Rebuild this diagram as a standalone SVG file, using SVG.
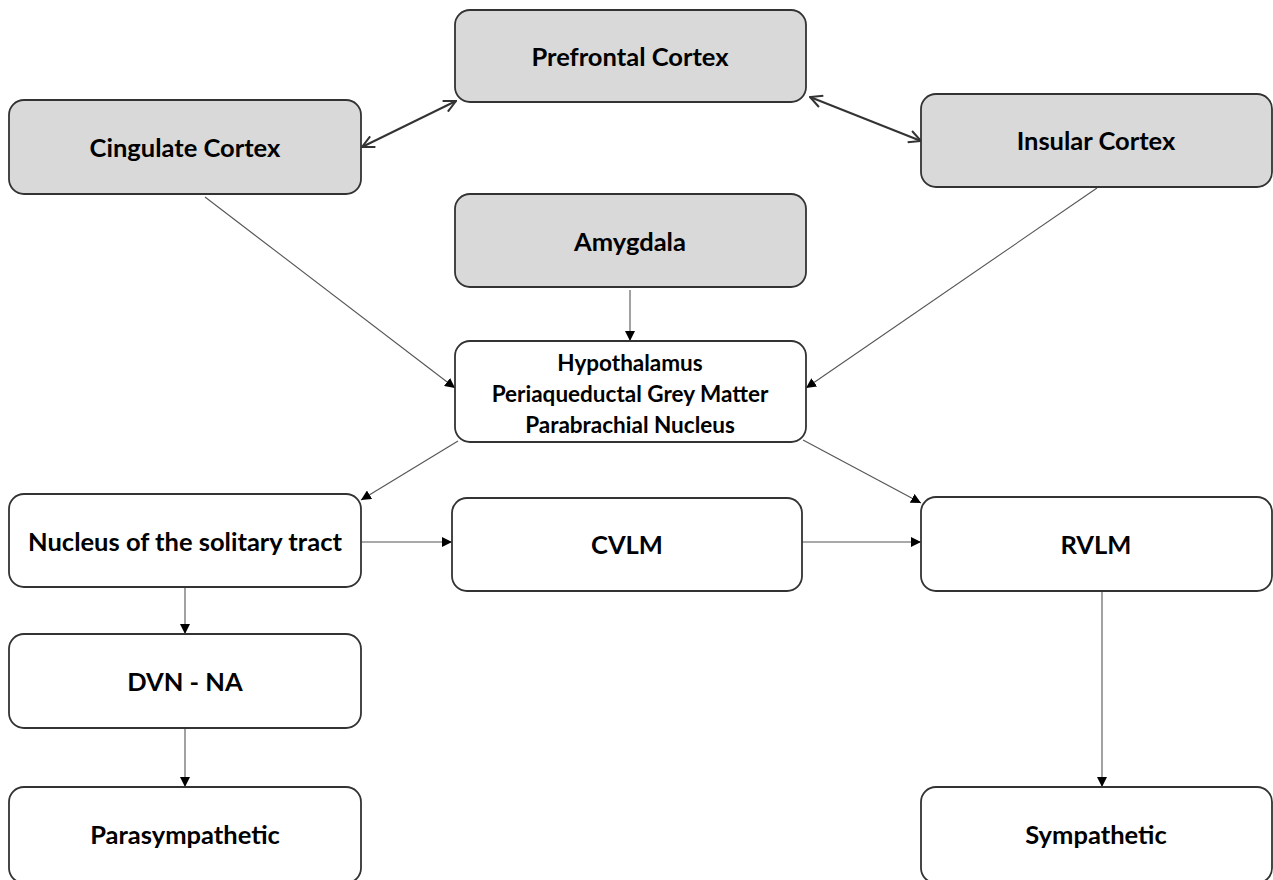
<svg xmlns="http://www.w3.org/2000/svg" width="1273" height="880" viewBox="0 0 1273 880">
<style>
.box{stroke:#333;stroke-width:1.8}
.grey{fill:#d9d9d9}
.white{fill:#fff}
.t{font-family:Lato,"Open Sans","Liberation Sans",sans-serif;font-weight:bold;font-size:25.5px;fill:#000;text-anchor:middle;dominant-baseline:central}
.ts{font-size:22.5px}
.thin{stroke:#555;stroke-width:1.1;fill:none}
.thick{stroke:#333;stroke-width:2;fill:none}
</style>
<defs>
<marker id="fill" viewBox="0 0 10 10" refX="10" refY="5" markerWidth="10" markerHeight="10" markerUnits="userSpaceOnUse" orient="auto"><path d="M0,0 L10,5 L0,10 z" fill="#000"/></marker>
<marker id="open" viewBox="0 0 14 14" refX="13" refY="7" markerWidth="14" markerHeight="14" markerUnits="userSpaceOnUse" orient="auto-start-reverse"><path d="M1,1 L13,7 L1,13" fill="none" stroke="#333" stroke-width="2"/></marker>
</defs>
<rect width="1273" height="880" fill="#fff"/>
<g id="connectors">
<line class="thick" x1="362" y1="147" x2="456" y2="101" marker-start="url(#open)" marker-end="url(#open)"/>
<line class="thick" x1="810" y1="97" x2="921" y2="141" marker-start="url(#open)" marker-end="url(#open)"/>
<line class="thin" x1="205" y1="197" x2="455" y2="388" marker-end="url(#fill)"/>
<line class="thin" x1="1097" y1="188" x2="806" y2="388" marker-end="url(#fill)"/>
<line class="thin" x1="630" y1="290" x2="630" y2="341" marker-end="url(#fill)"/>
<line class="thin" x1="458" y1="441" x2="361" y2="500" marker-end="url(#fill)"/>
<line class="thin" x1="803" y1="440" x2="921" y2="503" marker-end="url(#fill)"/>
<line class="thin" x1="361" y1="542" x2="452" y2="542" marker-end="url(#fill)"/>
<line class="thin" x1="802" y1="542" x2="921" y2="542" marker-end="url(#fill)"/>
<line class="thin" x1="185" y1="588" x2="185" y2="634" marker-end="url(#fill)"/>
<line class="thin" x1="185" y1="729" x2="185" y2="787" marker-end="url(#fill)"/>
<line class="thin" x1="1102" y1="592" x2="1102" y2="787" marker-end="url(#fill)"/>
</g>
<g id="prefrontal"><rect class="box grey" x="455" y="10" width="351" height="92" rx="15"/><text class="t" x="630" y="56">Prefrontal Cortex</text></g>
<g id="cingulate"><rect class="box grey" x="9" y="100" width="352" height="94" rx="15"/><text class="t" x="185" y="147">Cingulate Cortex</text></g>
<g id="insular"><rect class="box grey" x="921" y="94" width="351" height="93" rx="15"/><text class="t" x="1096" y="140">Insular Cortex</text></g>
<g id="amygdala"><rect class="box grey" x="455" y="194" width="351" height="93" rx="15"/><text class="t" x="630" y="241">Amygdala</text></g>
<g id="hypothalamus"><rect class="box white" x="455" y="341" width="351" height="101" rx="15"/><text class="t ts" x="630" y="362">Hypothalamus</text><text class="t ts" x="630" y="393">Periaqueductal Grey Matter</text><text class="t ts" x="630" y="424">Parabrachial Nucleus</text></g>
<g id="nts"><rect class="box white" x="9" y="494" width="352" height="93" rx="15"/><text class="t" x="185" y="541">Nucleus of the solitary tract</text></g>
<g id="cvlm"><rect class="box white" x="452" y="498" width="350" height="93" rx="15"/><text class="t" x="627" y="544">CVLM</text></g>
<g id="rvlm"><rect class="box white" x="921" y="497" width="351" height="94" rx="15"/><text class="t" x="1096" y="544">RVLM</text></g>
<g id="dvn"><rect class="box white" x="9" y="634" width="352" height="94" rx="15"/><text class="t" x="185" y="681">DVN - NA</text></g>
<g id="parasympathetic"><rect class="box white" x="9" y="787" width="352" height="96" rx="15"/><text class="t" x="185" y="834">Parasympathetic</text></g>
<g id="sympathetic"><rect class="box white" x="921" y="787" width="351" height="96" rx="15"/><text class="t" x="1096" y="834">Sympathetic</text></g>
</svg>
